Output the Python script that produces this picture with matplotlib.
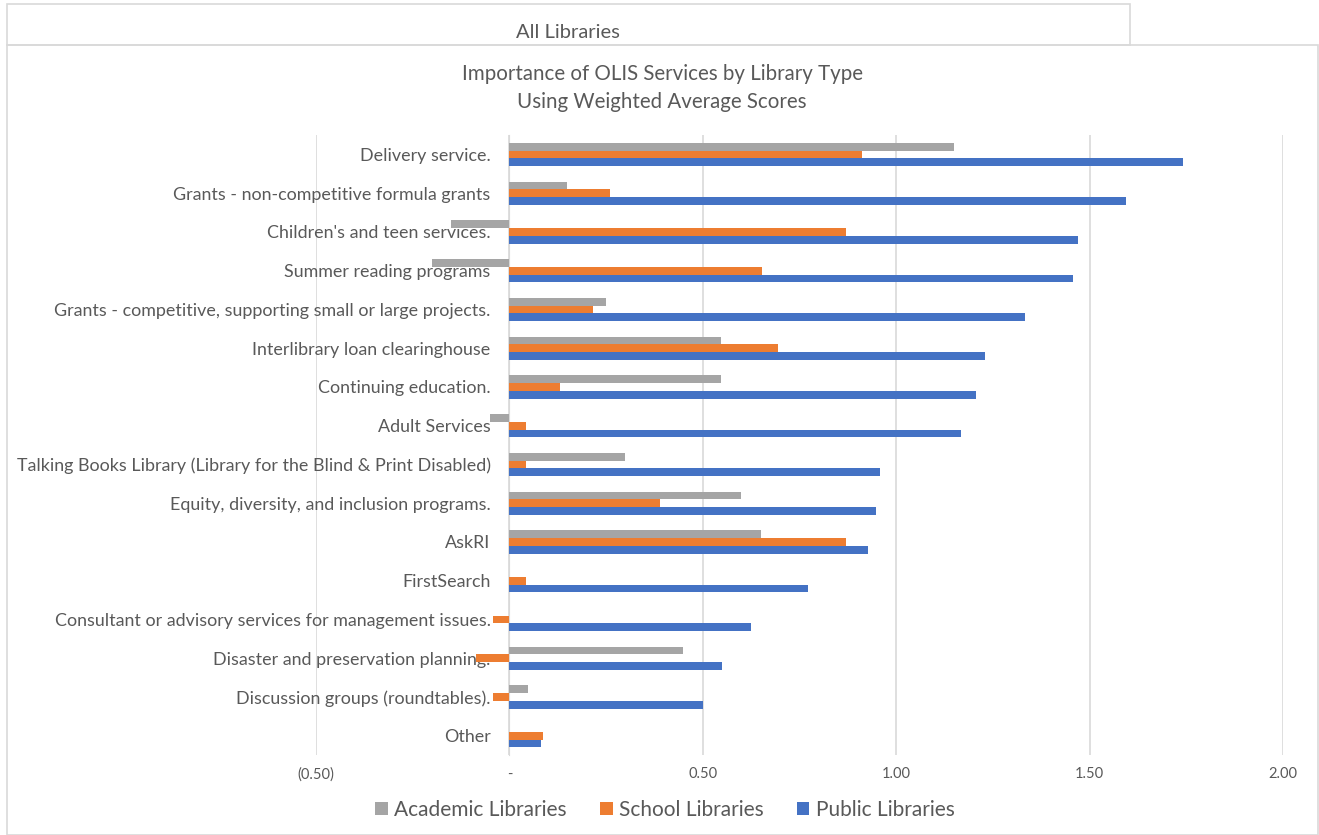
import numpy as np
import matplotlib
matplotlib.use("Agg")
import matplotlib.pyplot as plt
from matplotlib.patches import Rectangle

plt.rcParams['font.family'] = ['Lato', 'DejaVu Sans']

categories = [
    "Delivery service.",
    "Grants - non-competitive formula grants",
    "Children's and teen services.",
    "Summer reading programs",
    "Grants - competitive, supporting small or large projects.",
    "Interlibrary loan clearinghouse",
    "Continuing education.",
    "Adult Services",
    "Talking Books Library (Library for the Blind & Print Disabled)",
    "Equity, diversity, and inclusion programs.",
    "AskRI",
    "FirstSearch",
    "Consultant or advisory services for management issues.",
    "Disaster and preservation planning.",
    "Discussion groups (roundtables).",
    "Other",
]
academic = [1.15, 0.15, -0.152, -0.20, 0.25, 0.548, 0.548, -0.05, 0.30, 0.60, 0.65, 0, 0, 0.45, 0.048, 0]
school = [0.912, 0.26, 0.87, 0.652, 0.217, 0.695, 0.13, 0.043, 0.043, 0.39, 0.87, 0.043, -0.043, -0.087, -0.043, 0.087]
public = [1.741, 1.594, 1.47, 1.458, 1.334, 1.23, 1.207, 1.167, 0.958, 0.949, 0.928, 0.771, 0.624, 0.55, 0.50, 0.082]

xticks = [-0.5, 0, 0.5, 1.0, 1.5, 2.0]
xticklabels = ["(0.50)", "-", "0.50", "1.00", "1.50", "2.00"]

GRAY = "#A5A5A5"
ORANGE = "#ED7D31"
BLUE = "#4472C4"
TEXT = "#595959"
GRID = "#D9D9D9"

W, H = 1319, 835
fig = plt.figure(figsize=(W / 100, H / 100), dpi=100)

# frames: header box and chart box
fig.patches.append(Rectangle((7 / W, 1 - 45 / H), (1130 - 7) / W, 41 / H,
                             transform=fig.transFigure, fill=False,
                             edgecolor=GRID, linewidth=1.2))
fig.patches.append(Rectangle((7 / W, 0), (1318 - 7) / W, 1 - 45 / H,
                             transform=fig.transFigure, fill=False,
                             edgecolor=GRID, linewidth=1.2))
fig.text(568 / W, 1 - 32 / H, "All Libraries", ha="center", va="center",
         fontsize=14.5, color=TEXT)
fig.text(662 / W, 1 - 88 / H,
         "Importance of OLIS Services by Library Type\nUsing Weighted Average Scores",
         ha="center", va="center", fontsize=14.8, color=TEXT, linespacing=1.45)

left, right, top, bottom = 316, 1283, 135, 755
ax = fig.add_axes([left / W, 1 - bottom / H, (right - left) / W, (bottom - top) / H])

y = np.arange(len(categories))
h = 0.2
ax.barh(y - h, academic, height=h, color=GRAY, label="Academic Libraries")
ax.barh(y, school, height=h, color=ORANGE, label="School Libraries")
ax.barh(y + h, public, height=h, color=BLUE, label="Public Libraries")

ax.set_xlim(-0.5, 2.0)
ax.set_ylim(len(categories) - 0.5, -0.5)
ax.set_xticks(xticks)
ax.set_xticklabels(xticklabels)
ax.set_yticks(y)
ax.set_yticklabels(categories)
ax.grid(axis="x", color=GRID, linewidth=1.2)
ax.set_axisbelow(True)

for s in ["top", "right", "bottom"]:
    ax.spines[s].set_visible(False)
ax.spines["left"].set_position(("data", 0))
ax.spines["left"].set_color(GRID)
ax.spines["left"].set_zorder(0.5)

ax.tick_params(axis="y", length=0, pad=13.5, labelsize=12.9, labelcolor=TEXT)
ax.tick_params(axis="x", length=0, pad=9, labelsize=10.5, labelcolor=TEXT)

ax.legend(loc="center", bbox_to_anchor=(665 / W, 1 - 810 / H),
          bbox_transform=fig.transFigure, ncol=3, frameon=False,
          fontsize=15, labelcolor=TEXT, handlelength=0.6, handleheight=0.6,
          handletextpad=0.3, columnspacing=1.6)

fig.savefig("out.png", dpi=100)
